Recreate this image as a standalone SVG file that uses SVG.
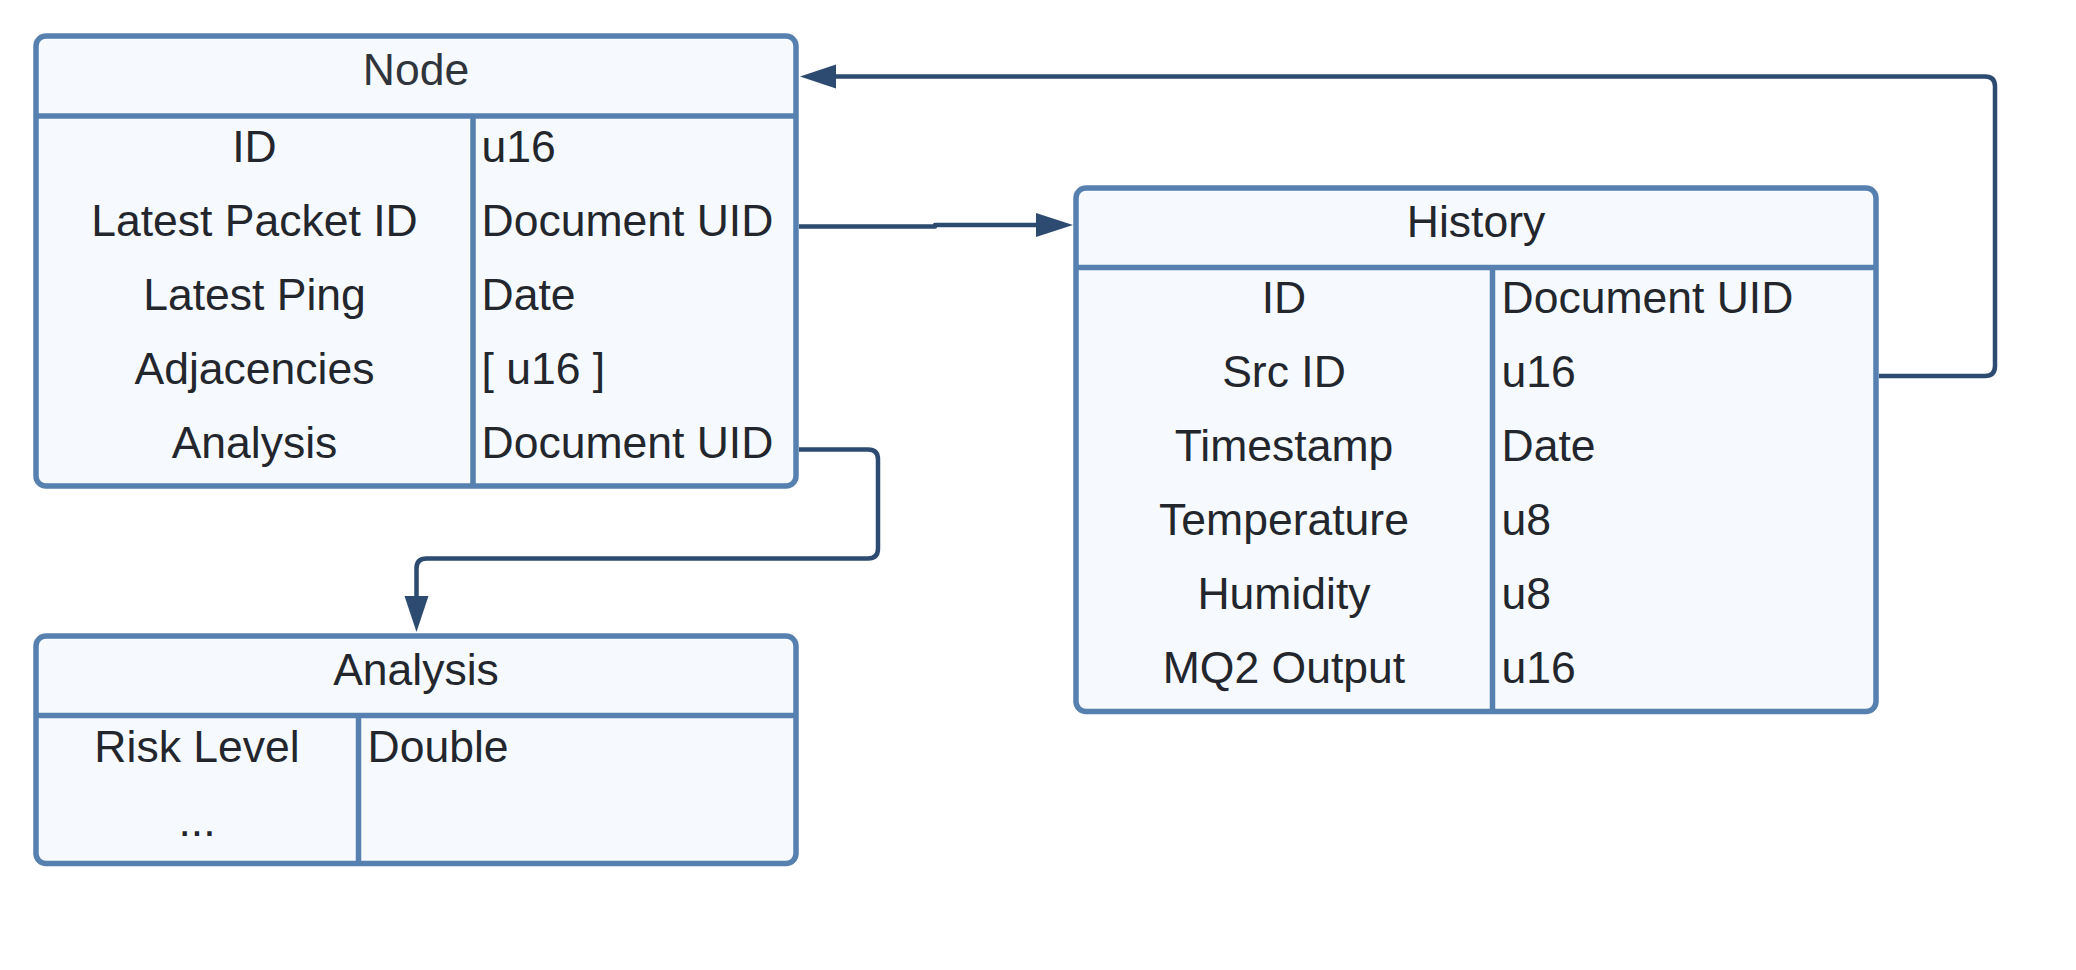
<svg xmlns="http://www.w3.org/2000/svg" width="2076" height="970" viewBox="0 0 2076 970">
<style>
.box{fill:#f6fafe;stroke:#5680b0;stroke-width:5.5}
.div{stroke:#5680b0;stroke-width:5.5;fill:none}
.t{font-family:"Liberation Sans",Arial,sans-serif;font-size:44.5px;fill:#23272d}
.c{text-anchor:middle}
.h{fill:#30353c}
.conn{fill:none;stroke:#2d4b70;stroke-width:4.5;stroke-linejoin:round}
.ah{fill:#2d4b70}
</style>
<rect width="2076" height="970" fill="#ffffff"/>
<g id="node-node">
<rect class="box" x="36" y="36" width="760" height="450" rx="10"/>
<line class="div" x1="36" y1="116" x2="796" y2="116"/>
<line class="div" x1="473" y1="116" x2="473" y2="486"/>
<text class="t c h" x="416" y="85">Node</text>
<text class="t c" x="254.5" y="162">ID</text>
<text class="t c" x="254.5" y="236">Latest Packet ID</text>
<text class="t c" x="254.5" y="310">Latest Ping</text>
<text class="t c" x="254.5" y="384">Adjacencies</text>
<text class="t c" x="254.5" y="458">Analysis</text>
<text class="t" x="481.5" y="162">u16</text>
<text class="t" x="481.5" y="236">Document UID</text>
<text class="t" x="481.5" y="310">Date</text>
<text class="t" x="481.5" y="384">[ u16 ]</text>
<text class="t" x="481.5" y="458">Document UID</text>
</g>
<g id="node-history">
<rect class="box" x="1076" y="188" width="800" height="523.5" rx="10"/>
<line class="div" x1="1076" y1="267.5" x2="1876" y2="267.5"/>
<line class="div" x1="1492.5" y1="267.5" x2="1492.5" y2="711.5"/>
<text class="t c" x="1476" y="237">History</text>
<text class="t c" x="1284" y="313">ID</text>
<text class="t c" x="1284" y="387">Src ID</text>
<text class="t c" x="1284" y="461">Timestamp</text>
<text class="t c" x="1284" y="535">Temperature</text>
<text class="t c" x="1284" y="609">Humidity</text>
<text class="t c" x="1284" y="683">MQ2 Output</text>
<text class="t" x="1501.5" y="313">Document UID</text>
<text class="t" x="1501.5" y="387">u16</text>
<text class="t" x="1501.5" y="461">Date</text>
<text class="t" x="1501.5" y="535">u8</text>
<text class="t" x="1501.5" y="609">u8</text>
<text class="t" x="1501.5" y="683">u16</text>
</g>
<g id="node-analysis">
<rect class="box" x="36" y="636" width="760" height="227.5" rx="10"/>
<line class="div" x1="36" y1="715.5" x2="796" y2="715.5"/>
<line class="div" x1="358.5" y1="715.5" x2="358.5" y2="863.5"/>
<text class="t c" x="416" y="685">Analysis</text>
<text class="t c" x="197" y="762">Risk Level</text>
<text class="t c" x="197" y="836">...</text>
<text class="t" x="367.5" y="762">Double</text>
</g>
<g id="connectors">
<path class="conn" d="M799,226.5 H935 V225 H1040"/>
<polygon class="ah" points="1036,213 1073,225 1036,237"/>
<path class="conn" d="M799,449.5 H868 Q878,449.5 878,459.5 V548.5 Q878,558.5 868,558.5 H426.5 Q416.5,558.5 416.5,568.5 V600"/>
<polygon class="ah" points="404.5,596 428.5,596 416.5,632"/>
<path class="conn" d="M1879,376 H1985 Q1995,376 1995,366 V86.5 Q1995,76.5 1985,76.5 H830"/>
<polygon class="ah" points="836,64.5 836,88.5 800,76.5"/>
</g>
</svg>
